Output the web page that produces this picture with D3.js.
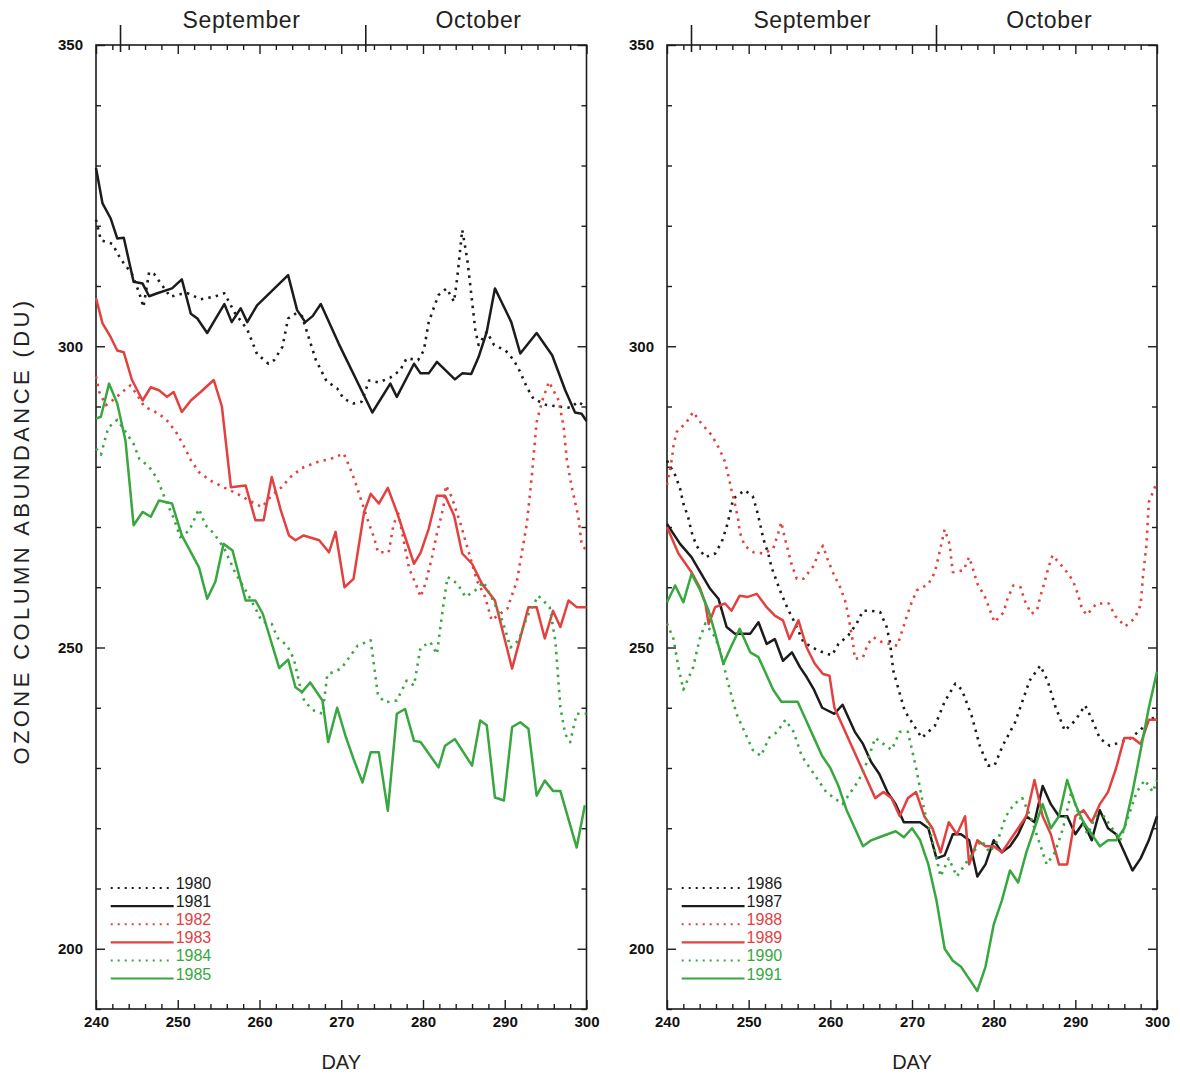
<!DOCTYPE html>
<html>
<head>
<meta charset="utf-8">
<script src="https://cdn.jsdelivr.net/npm/d3@7"></script>
<style>
  body { margin: 0; background: #fff; }
  svg text { font-family: "Liberation Sans", Arial, Helvetica, sans-serif; }
</style>
</head>
<body>
<svg id="chart" width="1180" height="1074"></svg>
<script>
// Daily total ozone over the Antarctic, September–October, two panels of years.
const monthStarts = [243, 273];
const monthNames = ["September", "October"];
const monthLabelDays = [257.8, 286.8];
const xLabelTicks = [240, 250, 260, 270, 280, 290, 300];
const yLabelTicks = [200, 250, 300, 350];

// [day, DU]
const y1980 = [[240,321],[240.6,317.6],[242,317],[243,314.5],[244.4,312],[245.3,308.8],[245.8,306.5],[246.5,312.3],[247.1,312],[248.1,310.1],[249.1,308.2],[250.1,308.6],[251.2,308.8],[252.8,307.8],[254.4,308.2],[255.7,308.8],[257,305.5],[258.5,302.8],[259.7,298.7],[261.1,297.1],[261.8,297.7],[262.8,299.9],[263.5,304.6],[264.5,305.5],[265.2,305],[265.8,302.4],[266.9,297.7],[268.2,294.2],[269.5,293],[270.3,291.3],[271.5,290.5],[272.5,290.8],[273.4,294.3],[274.6,294],[276,294.8],[277.2,296],[278,298],[279.4,297.7],[280.1,299.3],[280.7,304],[281.3,306.3],[281.9,308.5],[282.9,309.6],[283.8,307.4],[284.2,311.5],[284.8,319.3],[285.4,314.6],[285.8,309.9],[286.4,302.7],[286.8,300.2],[287.8,302.4],[288.7,300.2],[290.1,299.3],[291.1,297.7],[291.9,295.7],[292.7,293.2],[293.5,291.3],[295,290.3],[296.5,290],[298,289.8],[299,290.8],[300,289.8]];
const y1981 = [[240,329.6],[240.8,323.7],[241.8,321.2],[242.6,317.9],[243.4,318],[244.6,310.7],[245.7,310.4],[246.5,308.3],[247.5,308.8],[249.3,309.6],[250.5,311.1],[251.6,305.4],[252.4,304.6],[253.6,302.2],[254.6,304.5],[255.7,307],[256.6,304],[257.7,306.3],[258.5,304],[259.7,306.8],[263.5,311.8],[264.6,306],[265.6,304],[266.5,305],[267.5,307],[269.7,300.4],[273.8,289],[276,293.8],[276.8,291.6],[278.9,297.1],[279.7,295.5],[280.7,295.5],[281.7,297.4],[283.9,294.5],[284.8,295.5],[285.9,295.4],[286.8,298.2],[287.8,302.4],[288.8,309.6],[289.7,307.1],[290.8,304],[291.9,298.8],[293.9,302.2],[295.8,298.5],[297.4,292.7],[298.6,289],[299.4,288.8],[300,287.6]];
const y1982 = [[240,295],[240.4,292.4],[241.2,290.2],[242.2,291.2],[243.2,292.4],[244.2,293.5],[245,292],[245.9,290],[247.7,288.8],[248.9,287.4],[249.9,285.5],[250.8,283.3],[251.6,281.1],[252.6,279.1],[254,277.7],[255.6,276.6],[257.3,275.5],[258.7,274.4],[260.3,273.3],[261.5,275.2],[262.7,276.6],[263.8,278.3],[265.2,279.8],[267.1,280.8],[268.7,281.3],[270.3,282.2],[271.1,279.7],[271.7,277.5],[273.4,270.5],[274,268.3],[274.5,265.8],[275.8,265.8],[276.4,270.5],[277,272.2],[278.3,263.1],[279.1,260.6],[279.7,258.4],[280.3,260.6],[281.1,265],[281.7,268.9],[282.5,273.3],[282.8,276.9],[283.5,275],[284.6,270.5],[285.6,265.8],[286.6,261.1],[287.6,258.4],[288.4,254.5],[289.3,255.5],[290.3,256.4],[291.5,261.1],[292.7,270.5],[293.3,278.3],[293.9,287.4],[294.6,291],[295.4,294.1],[296.6,291],[297.2,286.6],[297.6,281.1],[298.2,276.6],[299,271.7],[299.4,267.2],[300,266]];
const y1983 = [[240,308],[240.8,303.8],[241.8,301.5],[242.6,299.3],[243.4,299],[244.4,294.4],[245.7,291],[246.7,293.2],[247.7,292.7],[248.7,291.6],[249.5,292.4],[250.5,289.1],[251.6,291],[252.8,292.4],[254.4,294.4],[255.4,290],[256.5,276.6],[258.3,276.9],[259.5,271.1],[260.5,271.1],[261.5,278.3],[262.6,272.8],[263.6,268.6],[264.4,267.8],[265.4,268.6],[267.3,267.8],[268.5,265.8],[269.3,269.2],[270.4,260],[271.5,261.4],[272.8,272.5],[273.6,275.5],[274.6,273.9],[275.7,276.5],[276.8,272.5],[278.9,263.9],[279.7,265.7],[280.7,269.7],[281.7,275.2],[282.7,275.2],[283.8,271.9],[284.8,265.6],[286,263.9],[287.2,260.6],[288.8,257.8],[290.9,246.5],[292.9,256.7],[293.9,256.7],[294.9,251.5],[295.9,256.1],[296.8,253.4],[297.8,257.8],[298.8,256.7],[300,256.7]];
const y1984 = [[240,283],[240.6,282],[241.5,286.5],[242.6,287.8],[243.6,285.8],[244.6,283.8],[245.3,281.3],[246.5,280],[247.5,278],[248.5,274.5],[249.5,271.5],[250.3,268.3],[251.4,269.4],[252.6,273],[253.4,270.3],[254.5,268.8],[255.7,266.4],[257,262.5],[258.3,259.5],[259.5,256.5],[260.3,254.3],[261.5,253.9],[262.2,251.6],[263.4,250.3],[264.2,248.1],[265,243.4],[265.5,241],[266.7,239.5],[267.7,239],[268.3,245.5],[270,246.5],[271,248.4],[272,250.3],[273.6,251.2],[274.5,242],[275.4,240.9],[276.8,241.2],[278,244.5],[278.9,243.7],[279.7,250],[280.9,250.9],[281.7,248.9],[282.5,257.2],[283,261.7],[284.2,260.6],[285.2,258.4],[286.4,259.5],[287.4,260.9],[288.5,258],[289.7,254.5],[290.7,250],[291.7,251.2],[292.7,255],[294.1,258.6],[295.5,256.7],[296.2,251],[296.8,240.1],[297.4,235.6],[298,234.3],[298.8,239],[300,239]];
const y1985 = [[240,288],[240.6,288.3],[241.6,293.8],[242.6,290.5],[243.6,284.4],[244.6,270.3],[245.7,272.5],[246.7,271.7],[247.7,274.4],[249.3,273.9],[250.5,268.6],[252.6,263.3],[253.6,258.1],[254.6,260.9],[255.6,267.2],[256.7,266.1],[258.3,257.8],[259.5,257.8],[260.4,255.6],[262.4,246.6],[263.5,248],[264.4,243.4],[265.2,242.6],[266.2,244.2],[267.7,241.2],[268.4,234.3],[269.5,240],[270.5,235.4],[271.5,231.5],[272.6,227.6],[273.6,232.6],[274.6,232.6],[275.7,222.9],[276.8,239],[277.8,239.8],[278.9,234.5],[279.7,234.3],[281.9,230.1],[282.7,233.7],[283.9,234.8],[286,230.4],[287,237.9],[287.8,237.1],[288.8,225.1],[289.9,224.6],[290.9,236.8],[291.9,237.6],[292.9,236.5],[293.9,225.4],[294.9,227.9],[295.9,226.2],[296.8,226.2],[298.8,216.8],[299.8,223.8]];

const y1986 = [[240,281],[241,278.6],[241.6,276.4],[242,273.9],[242.6,271.6],[243,269.2],[243.6,266.9],[244.7,265],[245.9,265.6],[246.7,267.5],[247.3,270],[247.7,272.2],[248.1,274.7],[249.5,276.1],[250.5,275.1],[251,272.8],[251.4,270.5],[251.8,268],[252.4,265.6],[252.8,263.3],[253.4,261.1],[254,258.9],[254.8,256.4],[255.5,254.5],[256.7,250.9],[258.5,249.5],[260.2,248.7],[261,250.6],[262.2,252],[263.2,253.9],[264,256.1],[264.8,256.1],[266.1,255.9],[266.9,253.4],[267.3,250.9],[267.7,246.2],[269.1,239.5],[270.4,236.7],[271.2,235],[272.8,237],[274,241],[275.3,244],[276.1,243],[277.3,238.7],[278.3,233.7],[279.3,230.4],[280.1,230.4],[281.1,233.7],[282.6,237.5],[284.4,244.5],[285.7,247],[286.6,244.5],[287.5,240.4],[288.7,236.2],[290,237.9],[291.2,240.4],[292.1,237.9],[293,234.9],[294.2,233.7],[295.4,234.2],[296.7,234.9],[297.9,236.2],[299.1,237.9],[300,238.7]];
const y1987 = [[240,270.5],[241.6,267.2],[243,265],[244.2,262.2],[245.3,259.7],[246.3,258.1],[247.3,253.4],[248.3,252.3],[250.2,252.3],[251.2,254.2],[252.2,250.6],[253.2,251.4],[254.2,247.8],[255.3,249.2],[256.3,246.7],[257.1,245.1],[258,243],[259,240],[260.5,239],[261.5,240.5],[263,236],[264,234],[265,231],[266,229],[267,226],[268,224],[269,221],[270,221],[271,221],[272,220],[273,215],[274,215.5],[275,219],[276,219],[277,218],[278,212],[279,214],[280,218],[281,216],[282,217],[283,219],[284,222],[285,221],[286,227],[287,224],[288,222],[289,222],[290,219],[291,221],[292,218],[293,223],[294,220],[295,219],[296,216],[297,213],[298,215],[299,218],[300,222]];
const y1988 = [[240,277],[240.6,281.3],[240.8,283.6],[241.2,285.8],[242.4,287.4],[243.2,289.1],[244.2,287.2],[245.5,285.2],[246.4,283],[247.1,280.8],[247.5,278.6],[247.9,276.1],[248.3,273.9],[248.7,271.4],[248.9,269.2],[249.5,266.9],[250.6,265.8],[251.8,265.6],[253,266.4],[253.6,268.9],[254,270.8],[254.4,268.3],[255.3,263.6],[255.9,261.4],[256.7,261.4],[258,263.6],[258.5,265.6],[259.1,266.9],[259.7,264.5],[260.4,262.2],[261.2,260],[261.8,257.8],[262.2,255.3],[262.8,250.6],[263,248.1],[264,248.4],[264.6,250.6],[265.3,251.7],[266.3,250.9],[268.2,250.3],[269.3,254.9],[269.9,257.3],[270.6,259.5],[272,260.5],[272.8,262.5],[273.2,264.8],[273.6,267.2],[274,269.6],[274.6,267.2],[274.8,264.8],[275,262.5],[276.3,262.8],[277,265],[277.5,262.9],[278,260.6],[278.9,258.5],[279.5,256.4],[280.1,254.2],[281.2,255.8],[281.7,258.1],[282.4,260.3],[283.3,260],[283.8,257.8],[284.6,255.6],[285.3,256.1],[285.7,258.4],[286.2,260.7],[286.7,263.2],[287.2,265.3],[288.7,263],[289.7,261.1],[290.3,258.9],[290.8,256.5],[291.4,255.4],[292.6,257.3],[294.1,257.3],[294.9,255.2],[296.1,253.5],[297.3,254.9],[298,257.1],[298.3,262.1],[298.7,266.9],[299,274.1],[300,277.5]];
const y1989 = [[240,270],[241.4,265.6],[243,262.5],[244,260],[244.7,257.3],[245.1,253.9],[245.9,256.7],[247.1,257.3],[247.9,256.1],[248.9,258.6],[249.9,258.4],[251,258.9],[252.2,256.7],[253.2,255.3],[254.2,254.5],[255,251.4],[256.1,254.5],[257.1,250],[258.1,247.3],[259.1,245.6],[259.9,245.3],[260.5,240],[261.5,237],[262.5,234],[263.5,231],[264.5,228],[265.5,225],[266.5,226],[267.5,225],[268.5,222],[269.5,225],[270.5,226],[271.5,222],[272.5,220],[273.5,216],[274.5,221],[275.5,219],[276.5,222],[277,214],[278,218],[279,217],[280,217],[281,216],[282,218],[283,220],[284,222],[285,228],[286,222],[287,219],[288,214],[289,214],[290,222],[291,223],[292,221],[293,224],[294,226],[295,230],[296,235],[297,235],[298,234],[299,238],[300,238]];
const y1990 = [[240,254],[240.8,251.4],[241.4,246.7],[242,243],[243.2,246.7],[244,251.4],[244.7,254],[245.9,251.7],[246.5,249.5],[247.5,244],[248.5,239],[249.5,236],[250.5,233],[251.5,232],[252.5,235],[253.5,236],[254.5,238],[255.5,236],[256.5,232],[257.5,230],[258.5,228],[259.5,226],[260.5,225],[261.5,224],[262.5,226],[263.5,228],[264.5,231],[265.5,235],[266.5,234],[267.5,233],[268.5,236],[269.5,236],[270.5,230],[271.5,223],[272.5,218],[273.5,212],[274.5,215],[275.5,212],[276.5,214],[277.5,216],[278.5,218],[279.5,216],[280.5,218],[281.5,222],[282.5,224],[283.5,225],[284.5,222],[285.5,218],[286.5,214],[287.5,216],[288.5,220],[289.5,226],[290.5,222],[291.5,219],[292.5,222],[293.5,222],[294.5,220],[295.5,218],[296.5,222],[297.5,226],[298.5,228],[299.5,226],[300,228]];
const y1991 = [[240,257.5],[241,260.3],[242,257.5],[243,262.2],[244,259.7],[245.1,256.1],[245.9,252.3],[246.9,247.3],[247.9,250.3],[248.9,253.1],[250.2,249.2],[251.2,248.4],[252,246],[253,243],[254,241],[255,241],[256,241],[257,238],[258,235],[259,232],[260,230],[261,227],[262,223],[263,220],[264,217],[265,218],[266,218.5],[267,219],[268,219.5],[269,218.5],[270,220],[271,218],[272,214],[273,208],[274,200],[275,198],[276,197],[277,195],[278,193],[279,197],[280,204],[281,208],[282,213],[283,211],[284,216],[285,220],[286,224],[287,220],[288,222],[289,228],[290,224],[291,221],[292,219],[293,217],[294,218],[295,218],[296,220],[297,226],[298,233],[299,240],[300,246]];

const INK = "#1c1c1c", RED = "#e3413f", GREEN = "#38a73f";

const panels = [
  { x0: 96, x1: 586.5, series: [
    { name: "1980", data: y1980, color: INK,   dotted: true },
    { name: "1981", data: y1981, color: INK,   dotted: false },
    { name: "1982", data: y1982, color: RED,   dotted: true },
    { name: "1983", data: y1983, color: RED,   dotted: false },
    { name: "1984", data: y1984, color: GREEN, dotted: true },
    { name: "1985", data: y1985, color: GREEN, dotted: false } ] },
  { x0: 667, x1: 1157, series: [
    { name: "1986", data: y1986, color: INK,   dotted: true },
    { name: "1987", data: y1987, color: INK,   dotted: false },
    { name: "1988", data: y1988, color: RED,   dotted: true },
    { name: "1989", data: y1989, color: RED,   dotted: false },
    { name: "1990", data: y1990, color: GREEN, dotted: true },
    { name: "1991", data: y1991, color: GREEN, dotted: false } ] }
];

const svg = d3.select("#chart");
const plotTop = 45, plotBottom = 1009;
const y = d3.scaleLinear().domain([190, 350]).range([plotBottom, plotTop]);

const yMinor = d3.range(190, 351, 10).filter(v => v % 50 !== 0);
const xMinor = d3.range(240, 301, 2).filter(v => v % 10 !== 0);

function styleAxis(g) {
  g.select(".domain").remove();
  g.selectAll(".tick line").attr("stroke", INK).attr("stroke-width", 1.4);
  g.selectAll("text")
    .attr("fill", "#111")
    .style("font-size", "15px")
    .style("font-weight", "bold")
    .style("font-family", "'Liberation Sans', Arial, sans-serif");
}

panels.forEach(p => {
  const x = d3.scaleLinear().domain([240, 300]).range([p.x0, p.x1]);
  const g = svg.append("g");

  // bottom axis: labelled major ticks and minor ticks pointing inward
  g.append("g").attr("transform", `translate(0,${plotBottom})`)
    .call(d3.axisBottom(x).tickValues(xLabelTicks).tickSize(-9).tickPadding(7).tickFormat(d3.format("d")))
    .call(styleAxis);
  g.append("g").attr("transform", `translate(0,${plotBottom})`)
    .call(d3.axisBottom(x).tickValues(xMinor).tickSize(-5).tickFormat(""))
    .call(styleAxis);
  // top axis
  g.append("g").attr("transform", `translate(0,${plotTop})`)
    .call(d3.axisTop(x).tickValues(xLabelTicks).tickSize(-9).tickFormat(""))
    .call(styleAxis);
  g.append("g").attr("transform", `translate(0,${plotTop})`)
    .call(d3.axisTop(x).tickValues(xMinor).tickSize(-5).tickFormat(""))
    .call(styleAxis);
  // left axis with labels
  g.append("g").attr("transform", `translate(${p.x0},0)`)
    .call(d3.axisLeft(y).tickValues(yLabelTicks).tickSize(-9).tickPadding(13).tickFormat(d3.format("d")))
    .call(styleAxis);
  g.append("g").attr("transform", `translate(${p.x0},0)`)
    .call(d3.axisLeft(y).tickValues(yMinor).tickSize(-5).tickFormat(""))
    .call(styleAxis);
  // right axis
  g.append("g").attr("transform", `translate(${p.x1},0)`)
    .call(d3.axisRight(y).tickValues(yLabelTicks).tickSize(-9).tickFormat(""))
    .call(styleAxis);
  g.append("g").attr("transform", `translate(${p.x1},0)`)
    .call(d3.axisRight(y).tickValues(yMinor).tickSize(-5).tickFormat(""))
    .call(styleAxis);

  // frame
  g.append("rect")
    .attr("x", p.x0).attr("y", plotTop)
    .attr("width", p.x1 - p.x0).attr("height", plotBottom - plotTop)
    .attr("fill", "none").attr("stroke", INK).attr("stroke-width", 1.6);

  // month boundaries and names above the frame
  g.selectAll("line.month").data(monthStarts).join("line")
    .attr("x1", d => x(d)).attr("x2", d => x(d))
    .attr("y1", plotTop - 20).attr("y2", plotTop + 7)
    .attr("stroke", INK).attr("stroke-width", 1.6);
  g.selectAll("text.month").data(monthNames).join("text")
    .attr("x", (d, i) => x(monthLabelDays[i]))
    .attr("y", 28)
    .attr("text-anchor", "middle")
    .attr("font-size", 23)
    .attr("letter-spacing", 0.6)
    .attr("fill", "#222")
    .text(d => d);

  // x title
  g.append("text")
    .attr("x", (p.x0 + p.x1) / 2).attr("y", 1069)
    .attr("text-anchor", "middle").attr("font-size", 20).attr("fill", "#222")
    .text("DAY");

  // data lines
  const line = d3.line().x(d => x(d[0])).y(d => y(d[1]));
  const plot = g.append("g");
  p.series.forEach(s => {
    plot.append("path")
      .datum(s.data)
      .attr("d", line)
      .attr("fill", "none")
      .attr("stroke", s.color)
      .attr("stroke-width", s.dotted ? 2.6 : 2.5)
      .attr("stroke-linejoin", "round")
      .attr("stroke-dasharray", s.dotted ? "2.4,5.2" : null);
  });

  // legend in the lower left corner
  const lx0 = x(241.8), lx1 = x(249.5);
  const leg = g.append("g");
  p.series.forEach((s, i) => {
    const ly = 888 + i * 18.1;
    leg.append("line")
      .attr("x1", lx0).attr("x2", lx1).attr("y1", ly).attr("y2", ly)
      .attr("stroke", s.color)
      .attr("stroke-width", s.dotted ? 2 : 2.2)
      .attr("stroke-dasharray", s.dotted ? "2,5" : null);
    leg.append("text")
      .attr("x", lx1 + 2).attr("y", ly + 1)
      .attr("font-size", 16).attr("fill", s.color)
      .text(s.name);
  });
});

// shared y title
svg.append("text")
  .attr("transform", "translate(29,531) rotate(-90)")
  .attr("text-anchor", "middle")
  .attr("font-size", 22)
  .attr("letter-spacing", 3.4)
  .attr("fill", "#222")
  .text("OZONE COLUMN ABUNDANCE (DU)");
</script>
</body>
</html>
